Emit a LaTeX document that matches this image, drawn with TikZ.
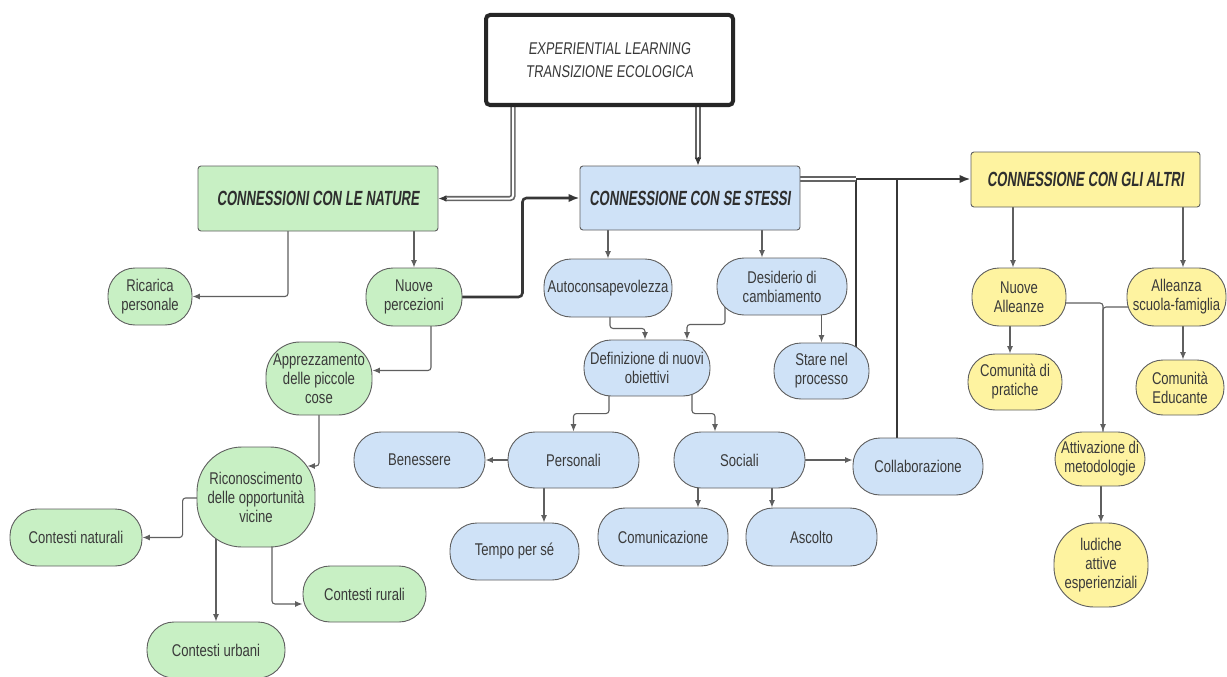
\documentclass[tikz,border=0pt]{standalone}
\usepackage{fontspec}
\setmainfont{Liberation Sans}[FakeStretch=0.77]
\newfontfamily\hdfont{Liberation Sans}[FakeStretch=0.64,FakeSlant=0.12]
\newfontfamily\tpfont{Liberation Sans}[FakeStretch=0.76,FakeSlant=0.1]
\usetikzlibrary{arrows.meta,calc}
\pgfdeclarelayer{bgzero}
\pgfdeclarelayer{bgone}
\pgfsetlayers{bgzero,bgone,main}
\definecolor{grn}{RGB}{200,240,196}
\definecolor{blu}{RGB}{207,226,247}
\definecolor{yel}{RGB}{254,243,160}
\definecolor{bd}{RGB}{95,95,95}
\definecolor{txt}{RGB}{58,58,58}
\definecolor{ln}{RGB}{95,95,95}
\definecolor{dk}{RGB}{55,55,55}
\definecolor{dbg}{RGB}{100,100,100}
\begin{document}
\begin{tikzpicture}[x=1pt,y=-1pt,
  box/.style={draw=bd, line width=0.9pt, align=center, inner sep=0pt, text=txt, font=\fontsize{17}{19}\selectfont},
  sz/.style 2 args={minimum width=#1pt, minimum height=#2pt},
  gr/.style={box, fill=grn, rounded corners=27pt},
  bl/.style={box, fill=blu, rounded corners=27pt},
  yl/.style={box, fill=yel, rounded corners=27pt},
  hd/.style={box, rounded corners=3pt, text=black!82, font=\hdfont\bfseries\fontsize{20.5}{22}\selectfont},
  topbox/.style={draw=black!85, line width=4pt, rounded corners=4pt, fill=white, inner sep=0pt, align=center, text=black!78, font=\tpfont\fontsize{17}{23}\selectfont},
  arr/.style={draw=ln, line width=1.1pt, rounded corners=3pt, -{Latex[length=7.5pt,width=6pt]}},
  thk/.style={draw=dk, line width=2.6pt, rounded corners=4pt, -{Latex[length=11pt,width=8.5pt]}},
  dkl/.style={draw=dk, line width=1.4pt},
  dbl/.style={draw=dbg, double=white, double distance=2pt, line width=1.7pt},
  tip/.style={draw=dk, line width=1pt, -{Latex[length=8pt,width=6.5pt]}}
]
\useasboundingbox (0,0) rectangle (1227,677);
\begin{pgfonlayer}{bgzero}
\fill[white] (0,0) rectangle (1227,677);
\end{pgfonlayer}

% headers
\node[topbox, sz={247}{90}] (top) at (609.5,60) {EXPERIENTIAL LEARNING\\TRANSIZIONE ECOLOGICA};
\node[hd, fill=grn, sz={240}{65}] (nat) at (318,198.5) {CONNESSIONI CON LE NATURE};
\node[hd, fill=blu, sz={220}{64}] (self) at (690,198) {CONNESSIONE CON SE STESSI};
\node[hd, fill=yel, sz={229}{55}] (oth) at (1085.5,179.5) {CONNESSIONE CON GLI ALTRI};

% green
\node[gr, sz={84}{57}] (ric) at (150,296.5) {Ricarica\\personale};
\node[gr, sz={96}{58}] (np) at (414,297) {Nuove\\percezioni};
\node[gr, sz={106}{73}, rounded corners=34pt] (app) at (319,378.5) {Apprezzamento\\delle piccole\\cose};
\node[gr, sz={118}{100}, rounded corners=45pt] (ric2) at (256,497) {Riconoscimento\\delle opportunità\\vicine};
\node[gr, sz={132}{57}] (cnat) at (76,537.5) {Contesti naturali};
\node[gr, sz={138}{56}] (curb) at (216,650) {Contesti urbani};
\node[gr, sz={123}{56}] (crur) at (364.5,594) {Contesti rurali};

% blue
\node[bl, sz={128}{58}] (auto) at (608,288) {Autoconsapevolezza};
\node[bl, sz={130}{57}] (des) at (782,286.5) {Desiderio di\\cambiamento};
\node[bl, sz={126}{56}] (def) at (647,368) {Definizione di nuovi\\obiettivi};
\node[bl, sz={95}{56}] (stare) at (821.5,371) {Stare nel\\processo};
\node[bl, sz={131}{56}] (ben) at (419.5,460) {Benessere};
\node[bl, sz={131}{56}] (pers) at (573.5,460) {Personali};
\node[bl, sz={131}{56}] (soc) at (739.5,460) {Sociali};
\node[bl, sz={130}{57}] (coll) at (918,466.5) {Collaborazione};
\node[bl, sz={129}{57}] (tempo) at (514.5,551.5) {Tempo per sé};
\node[bl, sz={130}{58}] (com) at (663,537) {Comunicazione};
\node[bl, sz={131}{58}] (asc) at (811.5,537) {Ascolto};

% yellow
\node[yl, sz={94}{58}] (na) at (1019,297) {Nuove\\Alleanze};
\node[yl, sz={99}{58}] (asf) at (1176.5,297) {Alleanza\\scuola-famiglia};
\node[yl, sz={94}{56}] (cdp) at (1015,382) {Comunità di\\pratiche};
\node[yl, sz={88}{55}] (ced) at (1180,387.5) {Comunità\\Educante};
\node[yl, sz={90}{54}] (att) at (1100,459) {Attivazione di\\metodologie};
\node[yl, sz={94}{84}, rounded corners=40pt] (lud) at (1101,565) {ludiche\\attive\\esperienziali};

\coordinate (j1) at (856,179);
\coordinate (j2) at (897,179);

\begin{pgfonlayer}{bgone}
% from top box
\draw[dbl, rounded corners=3pt] ($(top.center)+(-96.5,0)$) |- ($(nat.east)+(7,0)$);
\draw[tip] ($(nat.east)+(9,0)$) -- (nat.east);
\draw[dbl] ($(top.center)+(88.5,0)$) -- ($(self.north)+(8,-7)$);
\draw[tip] ($(self.north)+(8,-9)$) -- ($(self.north)+(8,0)$);

% green
\draw[arr] ($(nat.center)+(-30,0)$) |- (ric.east);
\draw[arr] (np.north |- nat.center) -- (np.north);
\draw[thk] (np.center) -- ($(np.east)+(60,0)$) |- (self.west);
\draw[arr] ($(np.center)+(17,0)$) |- ($(app.east)+(0,-8)$);
\draw[arr] (app.center) |- ($(ric2.east)+(-8,-31)$);
\draw[arr] ($(ric2.center)+(0,1)$) -- ($(ric2.west)+(-14,1)$) |- (cnat.east);
\draw[arr] (curb.north |- ric2.center) -- (curb.north);
\draw[arr] ($(ric2.center)+(16,0)$) |- ($(crur.west)+(0,10)$);

% blue
\draw[arr] (auto.north |- self.center) -- (auto.north);
\draw[arr] ($(self.center)+(72,0)$) -- ($(des.north)+(-20,0)$);
\draw[arr] ($(auto.center)+(2,0)$) -- ($(auto.south)+(2,11)$) -| ($(def.north)+(-2,0)$);
\draw[arr] ($(des.center)+(-57,0)$) -- ($(des.south)+(-57,9)$) -| ($(def.north)+(40,0)$);
\draw[arr] (stare.north |- des.center) -- (stare.north);
\draw[arr] ($(def.center)+(-38,0)$) |- ($(pers.north)+(0,-18)$) -- (pers.north);
\draw[arr] ($(def.center)+(45,0)$) |- ($(soc.north)+(-24.5,-18)$) -- ($(soc.north)+(-24.5,0)$);
\draw[arr] (pers.center) -- (ben.east);
\draw[arr] ($(pers.center)+(-29.5,0)$) -- ($(tempo.north)+(29.5,0)$);
\draw[arr] ($(soc.center)+(-41.5,0)$) -- ($(com.north)+(35,0)$);
\draw[arr] ($(soc.center)+(32.5,0)$) -- ($(asc.north)+(-39.5,0)$);
\draw[arr] (soc.center) -- (coll.west |- soc.center);

% to the others
\draw[dkl] (j1 |- stare.center) -- (j1);
\draw[dkl] (j2 |- coll.center) -- (j2);
\draw[dbl] ($(self.center)+(0,-19)$) -- (j1);
\draw[thk] (j1) -- (oth.west |- j1);

% yellow
\draw[arr] ($(oth.center)+(-72.5,0)$) -- ($(na.north)+(-6,0)$);
\draw[arr] ($(oth.center)+(97.5,0)$) -- ($(asf.north)+(6.5,0)$);
\draw[arr] ($(na.center)+(-9,0)$) -- ($(cdp.north)+(-5,0)$);
\draw[arr] ($(asf.center)+(6.5,0)$) -- ($(ced.north)+(3,0)$);
\draw[arr, -] ($(asf.center)+(0,10)$) -| ($(att.north)+(3,0)$);
\draw[arr] ($(na.center)+(0,6)$) -| ($(att.north)+(3,0)$);
\draw[arr] (lud.north |- att.center) -- (lud.north);
\end{pgfonlayer}
\end{tikzpicture}
\end{document}
